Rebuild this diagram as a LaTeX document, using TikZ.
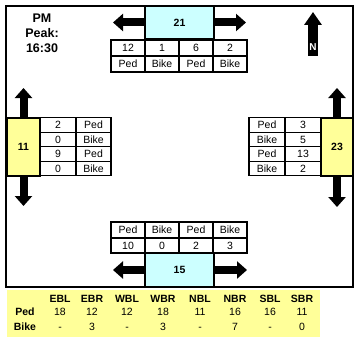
\documentclass[tikz,border=0pt]{standalone}
\usepackage{fontspec}
\setmainfont{Liberation Sans}
\usetikzlibrary{arrows.meta}
\definecolor{pkcyan}{RGB}{204,255,255}
\definecolor{pkyellow}{RGB}{255,255,153}

\begin{document}
\begin{tikzpicture}[x=1pt,y=-1pt,
  cell/.style={draw,line width=1.3pt,inner sep=0pt,font=\fontsize{10.5}{11}\selectfont},
  legbox/.style={draw,line width=1.3pt,inner sep=0pt,font=\bfseries\fontsize{10.5}{12}\selectfont},
  flow/.style={line width=8pt,-{Triangle[width=17pt,length=10pt]}},
  tab/.style={inner sep=0pt,text height=7.5pt,text depth=0pt,font=\fontsize{10.5}{11}\selectfont},
  tabhead/.style={tab,font=\bfseries\fontsize{10.5}{11}\selectfont}]
\useasboundingbox (0,0) rectangle (356,337);

% summary table background
\fill[pkyellow] (7,290) rectangle (320,337);

% legs
\node[legbox,fill=pkcyan,minimum width=69pt,minimum height=33pt] (n21) at (179.5,22.5) {};
\node[legbox,fill=pkcyan,minimum width=69pt,minimum height=34pt] (n15) at (179.5,270) {};
\node[legbox,fill=pkyellow,minimum width=33pt,minimum height=58pt] (n11) at (23.5,147) {};
\node[legbox,fill=pkyellow,minimum width=32pt,minimum height=58pt] (n23) at (337,147) {};

% arrows
\coordinate (a21w) at (113,22.5);
\coordinate (a21e) at (246,22.5);
\coordinate (a15w) at (113,270);
\coordinate (a15e) at (247,270);
\coordinate (a11n) at (23.5,88);
\coordinate (a11s) at (23.5,206);
\coordinate (a23n) at (337,88);
\coordinate (a23s) at (337,207);
\draw[flow] (n21.west) -- (a21w);
\draw[flow] (n21.east) -- (a21e);
\draw[flow] (n15.west) -- (a15w);
\draw[flow] (n15.east) -- (a15e);
\draw[flow] (n11.north) -- (a11n);
\draw[flow] (n11.south) -- (a11s);
\draw[flow] (n23.north) -- (a23n);
\draw[flow] (n23.south) -- (a23s);

% leg boxes on top of the arrow shafts
\node[legbox,fill=pkcyan,minimum width=69pt,minimum height=33pt] at (n21) {21};
\node[legbox,fill=pkcyan,minimum width=69pt,minimum height=34pt] at (n15) {15};
\node[legbox,fill=pkyellow,minimum width=33pt,minimum height=58pt] at (n11) {11};
\node[legbox,fill=pkyellow,minimum width=32pt,minimum height=58pt] at (n23) {23};

% crossing counts
\foreach \x/\v/\t in {128/12/Ped,162/1/Bike,196/6/Ped,230/2/Bike}{
  \node[cell,minimum width=34pt,minimum height=16pt] at (\x,48) {\v};
  \node[cell,minimum width=34pt,minimum height=16pt] at (\x,64) {\t};
}
\foreach \x/\v/\t in {128/10/Ped,162/0/Bike,196/2/Ped,230/3/Bike}{
  \node[cell,minimum width=34pt,minimum height=16pt] at (\x,230) {\t};
  \node[cell,minimum width=34pt,minimum height=15pt] at (\x,245.5) {\v};
}
\foreach \y/\v/\t in {125/2/Ped,139.5/0/Bike,154/9/Ped,168.5/0/Bike}{
  \node[cell,minimum width=36pt,minimum height=14.5pt] at (58,\y) {\v};
  \node[cell,minimum width=35pt,minimum height=14.5pt] at (93.5,\y) {\t};
}
\foreach \y/\v/\t in {125/3/Ped,139.5/5/Bike,154/13/Ped,168.5/2/Bike}{
  \node[cell,minimum width=36pt,minimum height=14.5pt] at (267,\y) {\t};
  \node[cell,minimum width=36pt,minimum height=14.5pt] at (303,\y) {\v};
}

% frame
\draw[line width=2.5pt] (6,6) rectangle (353,287);

% title and north arrow
\node[align=center,font=\bfseries\fontsize{12.5}{15}\selectfont] (title) at (42,33) {PM\\Peak:\\16:30};
\coordinate (ntail) at (313,56);
\coordinate (nhead) at (313,12);
\draw[line width=10pt,-{Triangle[width=17pt,length=13pt]}] (ntail) -- (nhead);
\node[text=white,font=\bfseries\fontsize{10}{11}\selectfont] (nlab) at (313,47) {N};

% summary table
\node[tabhead] (rped) at (25,312) {Ped};
\node[tabhead] (rbike) at (25,327) {Bike};
\foreach \x/\h/\p/\b in {60/EBL/18/-,92/EBR/12/3,127/WBL/12/-,163/WBR/18/3,200/NBL/11/-,235/NBR/16/7,270/SBL/16/-,302/SBR/11/0}{
  \node[tabhead] at (\x,299) {\h};
  \node[tab] at (\x,312) {\p};
  \node[tab] at (\x,327) {\b};
}
\end{tikzpicture}
\end{document}
